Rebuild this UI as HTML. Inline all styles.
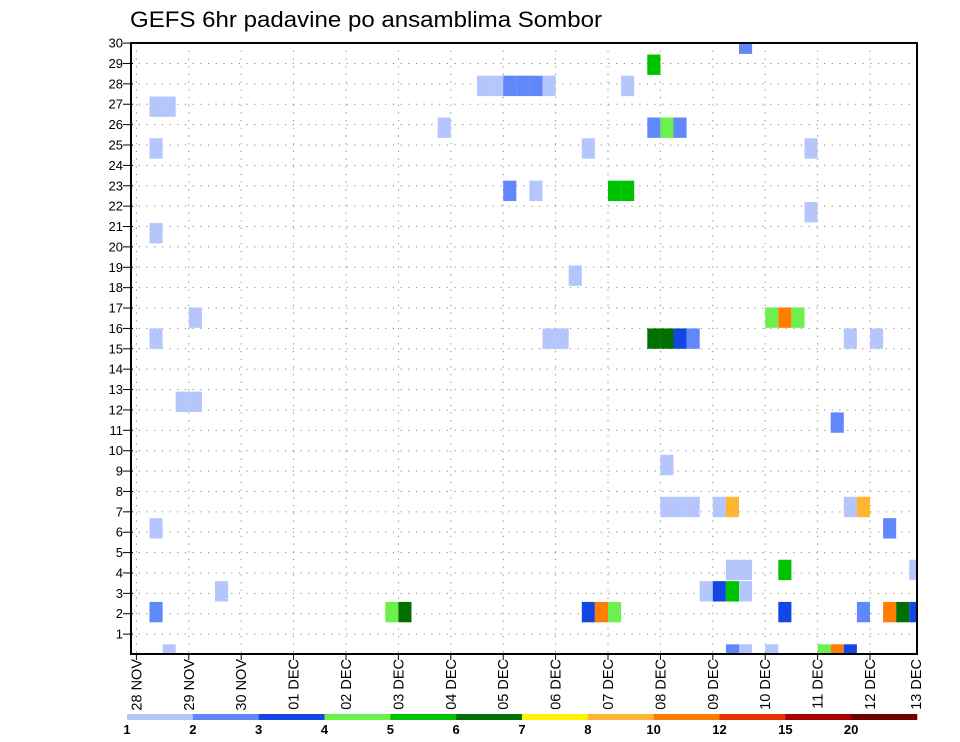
<!DOCTYPE html>
<html><head><meta charset="utf-8"><style>
html,body{margin:0;padding:0;background:#fff;}
svg{display:block;font-family:"Liberation Sans",sans-serif;}
</style></head><body>
<svg id="chart" width="960" height="742" viewBox="0 0 960 742">
<text x="130" y="27" font-size="22" textLength="472" lengthAdjust="spacingAndGlyphs" fill="#000">GEFS 6hr padavine po ansamblima Sombor</text>
<defs><clipPath id="plotclip"><rect x="131" y="43" width="786" height="611"/></clipPath></defs>
<g id="grid"></g>
<g id="cells" clip-path="url(#plotclip)"></g>
<rect x="131" y="43" width="786" height="611" fill="none" stroke="#000" stroke-width="2"/>
<g id="yaxis"></g>
<g id="xaxis"></g>
<g id="colorbar"></g>
</svg>
<script>
const dateLabels = ["28 NOV","29 NOV","30 NOV","01 DEC","02 DEC","03 DEC","04 DEC","05 DEC","06 DEC","07 DEC","08 DEC","09 DEC","10 DEC","11 DEC","12 DEC","13 DEC"];
const yTicks = [1,2,3,4,5,6,7,8,9,10,11,12,13,14,15,16,17,18,19,20,21,22,23,24,25,26,27,28,29,30];
const binLabels = ["1","2","3","4","5","6","7","8","10","12","15","20"];
const binColors = ["#b4c6fb","#6088fb","#1446e4","#6cf04e","#00c300","#007000","#fff500","#ffb432","#ff7e00","#e63200","#a80000","#6e0000"];
// cells: 6-hour step index, ensemble row (center value), colour bin
const cellStep = [46,39,26,27,28,29,30,31,37,1,2,23,39,40,41,1,34,51,28,30,36,37,51,1,33,4,48,49,50,1,31,32,39,40,41,42,54,56,3,4,53,40,40,41,42,44,45,54,55,1,57,45,46,49,59,6,43,44,45,46,1,19,20,34,35,36,49,55,57,58,59,2,45,46,48,52,53,54];
const cellRow = [29.97,28.94,27.9,27.9,27.9,27.9,27.9,27.9,27.9,26.88,26.88,25.85,25.85,25.85,25.85,24.83,24.83,24.83,22.75,22.75,22.75,22.75,21.7,20.67,18.59,16.53,16.53,16.53,16.53,15.5,15.5,15.5,15.5,15.5,15.5,15.5,15.5,15.5,12.4,12.4,11.38,9.3,7.24,7.24,7.24,7.24,7.24,7.24,7.24,6.19,6.19,4.15,4.15,4.15,4.15,3.1,3.1,3.1,3.1,3.1,2.08,2.08,2.08,2.08,2.08,2.08,2.08,2.08,2.08,2.08,2.08,0,0,0,0,0,0,0];
const cellBin = [1,4,0,0,1,1,1,0,0,0,0,0,1,3,1,0,0,0,1,0,4,4,0,0,0,0,3,8,3,0,0,0,5,5,2,1,0,0,0,0,1,0,0,0,0,0,7,0,7,0,1,0,0,4,0,0,0,2,4,0,1,3,5,2,8,3,2,1,8,5,2,0,1,0,0,3,8,2];

const NS="http://www.w3.org/2000/svg";
const X0=136.4, DAY=52.4, STEP=DAY/4, PL=131, PR=917, PT=43, PB=654;
const xDay = d => X0 + d*DAY;
const xStep = s => X0 + s*STEP;
const yVal = v => 654.5 - v*20.38;
const ROWH = 20.38;
function mk(tag, attrs, parent){const e=document.createElementNS(NS,tag);for(const k in attrs)e.setAttribute(k,attrs[k]);parent.appendChild(e);return e;}
const grid=document.getElementById('grid'), cells=document.getElementById('cells'), yax=document.getElementById('yaxis'), xax=document.getElementById('xaxis'), cb=document.getElementById('colorbar');

yTicks.forEach(v=>{
  const y=yVal(v);
  const gl=mk('line',{x1:PL,x2:PR,y1:y,y2:y,stroke:'#888','stroke-width':1,'stroke-dasharray':'1.2,6.5'},grid);
  
  
  const t=mk('line',{x1:PL-8,x2:PL+2,y1:y,y2:y,stroke:'#000','stroke-width':1},yax);
  
  
  const tx=mk('text',{x:PL-8,y:y+4.5,'font-size':13,'text-anchor':'end',fill:'#000'},yax);
  tx.textContent=v;
  
  
});
dateLabels.forEach((lab,d)=>{
  const x=xDay(d);
  if(x<PR-2){
    const gl=mk('line',{x1:x,x2:x,y1:PT,y2:PB,stroke:'#888','stroke-width':1,'stroke-dasharray':'1.2,6.5'},grid);
    
    
    const t=mk('line',{x1:x,x2:x,y1:PB,y2:PB+6,stroke:'#000','stroke-width':1},xax);
    
    
  }
  const lx=Math.min(x,916);
  const tx=mk('text',{transform:`translate(${lx+5},659) rotate(-90)`,'font-size':14.5,'text-anchor':'end',fill:'#000'},xax);
  tx.textContent=lab;
  
  
});
cellStep.forEach((s,k)=>{
  const r=mk('rect',{x:xStep(s),y:yVal(cellRow[k])-ROWH/2,width:STEP,height:ROWH,fill:binColors[cellBin[k]]},cells);
  
  
});
const CB0=127, CBW=(917-127)/binColors.length;
binColors.forEach((c,k)=>{
  const r=mk('rect',{x:CB0+k*CBW,y:714,width:CBW+0.3,height:6,fill:c},cb);
  
  
});
binLabels.forEach((l,k)=>{
  const t=mk('text',{x:CB0+k*CBW,y:734,'font-size':13,'font-weight':'bold','text-anchor':'middle',fill:'#000'},cb);
  t.textContent=l;
  
  
});
</script>
</body></html>
